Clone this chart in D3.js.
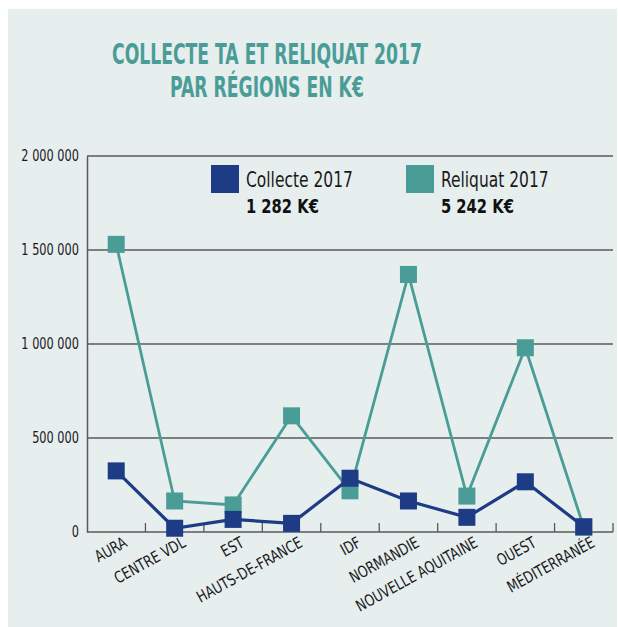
<!DOCTYPE html>
<html>
<head>
<meta charset="utf-8">
<script src="https://cdn.jsdelivr.net/npm/d3@7"></script>
<style>
  html, body { margin: 0; padding: 0; background: #ffffff; }
  svg { display: block; }
  text { font-family: "Liberation Sans Narrow", "Arial Narrow", "DejaVu Sans Condensed", sans-serif; }
</style>
</head>
<body>
<svg id="chart" width="618" height="627"></svg>
<script>
// Régions
const regions = ["AURA", "CENTRE VDL", "EST", "HAUTS-DE-FRANCE", "IDF", "NORMANDIE",
                 "NOUVELLE AQUITAINE", "OUEST", "MÉDITERRANÉE"];
// Collecte TA 2017 (€)
const collecte = [325000, 20000, 67000, 46000, 286000, 165000, 78000, 267000, 28000];
// Reliquat 2017 (€)
const reliquat = [1530000, 165000, 144000, 618000, 219000, 1370000, 191000, 980000, 25000];
// Graduations de l'axe vertical
const yTicks = [0, 500000, 1000000, 1500000, 2000000];
// Titre et légende
const titleLines = ["COLLECTE TA ET RELIQUAT 2017", "PAR RÉGIONS EN K€"];
const seriesNames = ["Collecte 2017", "Reliquat 2017"];
const seriesTotals = ["1 282 K€", "5 242 K€"];

const navy = "#1d3c85";
const teal = "#4a9d96";
const grid = "#5a5a5a";
const ink = "#1a1a1a";

const svg = d3.select("#chart");

// texte resserré horizontalement (police condensée)
function label(parent, str, ax, ay, opts) {
  const t = parent.append("text")
    .attr("transform", `translate(${ax},${ay}) rotate(${opts.rotate || 0}) scale(${opts.sx},1)`)
    .attr("text-anchor", opts.anchor || "start")
    .attr("font-size", opts.size)
    .attr("fill", opts.fill || ink)
    .text(str);
  if (opts.bold) t.attr("font-weight", "bold");
  if (opts.dy) t.attr("dy", opts.dy);
  return t;
}

// fond du panneau
svg.append("rect").attr("x", 8).attr("y", 9).attr("width", 609).attr("height", 618)
  .attr("fill", "#e6eeee");

// titre
const titleG = svg.append("g");
titleLines.forEach((s, i) => label(titleG, s, 267, 64 + i * 33,
  { anchor: "middle", size: 29, bold: true, fill: teal, sx: 0.66 }));

const plotLeft = 87, plotRight = 613, plotTop = 156, plotBottom = 532;

const x = d3.scaleBand().domain(regions).range([plotLeft, plotRight]);
const y = d3.scaleLinear().domain([0, 2000000]).range([plotBottom, plotTop]);

const fmt = v => d3.format(",")(v).replace(/,/g, " ");

// lignes horizontales
svg.append("g").selectAll("line").data(yTicks.filter(d => d > 0)).join("line")
  .attr("x1", plotLeft).attr("x2", plotRight)
  .attr("y1", d => y(d)).attr("y2", d => y(d))
  .attr("stroke", grid).attr("stroke-width", 1.3);

// axe vertical
const yAxis = svg.append("g").attr("transform", `translate(${plotLeft},0)`)
  .call(d3.axisLeft(y).tickValues(yTicks).tickFormat("").tickSize(0));
yAxis.select(".domain").attr("stroke", grid).attr("stroke-width", 1.5);
const yLabels = svg.append("g");
yTicks.forEach(v => label(yLabels, fmt(v), plotLeft - 8, y(v), {
  anchor: "end", size: 15, sx: 0.84, dy: "0.35em" }));

// axe horizontal avec graduations vers le haut aux limites des bandes
svg.append("line").attr("x1", plotLeft).attr("x2", plotRight)
  .attr("y1", plotBottom).attr("y2", plotBottom)
  .attr("stroke", grid).attr("stroke-width", 1.5);
const bounds = regions.slice(1).map(r => x(r)).concat([plotRight]);
svg.append("g").selectAll("line").data(bounds).join("line")
  .attr("x1", d => d).attr("x2", d => d)
  .attr("y1", plotBottom).attr("y2", plotBottom - 9)
  .attr("stroke", grid).attr("stroke-width", 1.3);

// libellés des régions
const cx = r => x(r) + x.bandwidth() / 2;
const xLabels = svg.append("g");
regions.forEach(r => label(xLabels, r, cx(r) + 12, 546, {
  anchor: "end", size: 16, sx: 0.86, rotate: -29 }));

// séries
const series = [
  { values: reliquat, color: teal, width: 2.8 },
  { values: collecte, color: navy, width: 3.2 }
];
const line = d3.line().x((d, i) => cx(regions[i])).y(d => y(d));
const ms = 17;
series.forEach(s => {
  const g = svg.append("g");
  g.append("path").attr("d", line(s.values))
    .attr("fill", "none").attr("stroke", s.color).attr("stroke-width", s.width);
  g.selectAll("rect").data(s.values).join("rect")
    .attr("x", (d, i) => cx(regions[i]) - ms / 2)
    .attr("y", d => y(d) - ms / 2)
    .attr("width", ms).attr("height", ms)
    .attr("fill", s.color);
});

// légende
const legend = svg.append("g");
const legendX = [211, 406];
const legendColors = [navy, teal];
seriesNames.forEach((name, i) => {
  legend.append("rect").attr("x", legendX[i]).attr("y", 165).attr("width", 28).attr("height", 28)
    .attr("fill", legendColors[i]);
  label(legend, name, legendX[i] + 35, 187, { size: 20.5, sx: 0.84 });
  label(legend, seriesTotals[i], legendX[i] + 35, 213, { size: 19.5, bold: true, sx: 0.84, fill: "#111" });
});
</script>
</body>
</html>
